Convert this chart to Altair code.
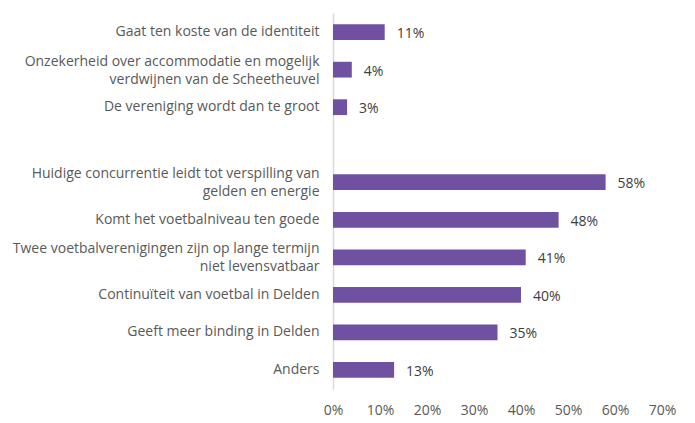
import altair as alt
import pandas as pd

categories = [
    "Gaat ten koste van de identiteit",
    "Onzekerheid over accommodatie en mogelijk|verdwijnen van de Scheetheuvel",
    "De vereniging wordt dan te groot",
    " ",
    "Huidige concurrentie leidt tot verspilling van|gelden en energie",
    "Komt het voetbalniveau ten goede",
    "Twee voetbalverenigingen zijn op lange termijn|niet levensvatbaar",
    "Continuïteit van voetbal in Delden",
    "Geeft meer binding in Delden",
    "Anders",
]
values = [0.11, 0.04, 0.03, None, 0.58, 0.48, 0.41, 0.40, 0.35, 0.13]
value_labels = ["11%", "4%", "3%", "", "58%", "48%", "41%", "40%", "35%", "13%"]

df = pd.DataFrame({"cat": categories, "val": values, "lbl": value_labels})
bars_df = df[df["val"].notna()]

FONT = "Open Sans"
FS = 14
PURPLE = "#7050a0"

y_enc = alt.Y(
    "cat:N",
    sort=categories,
    scale=alt.Scale(domain=categories, paddingInner=0.58, paddingOuter=0.3),
    axis=alt.Axis(
        title=None,
        ticks=False,
        domain=True,
        domainColor="#d9d9d9",
        domainWidth=1.5,
        labelPadding=14,
        labelLimit=400,
        labelFont=FONT,
        labelFontSize=FS,
        labelColor="#595959",
        labelExpr="split(datum.label, '|')",
        labelLineHeight=18,
        labelOffset={"expr": "indexof(datum.value, '|') >= 0 ? -8 : 0"},
    ),
)

x_enc = alt.X(
    "val:Q",
    scale=alt.Scale(domain=[0, 0.7]),
    axis=alt.Axis(
        title=None,
        format=".0%",
        values=[0, 0.1, 0.2, 0.3, 0.4, 0.5, 0.6, 0.7],
        grid=False,
        ticks=False,
        domain=False,
        labelFlush=False,
        labelPadding=14,
        labelFont=FONT,
        labelFontSize=FS,
        labelColor="#595959",
    ),
)

base = alt.Chart(bars_df)

bars = base.mark_bar(color=PURPLE).encode(y=y_enc, x=x_enc)

text = base.mark_text(
    align="left", baseline="middle", dx=12, dy=2, font=FONT, fontSize=FS, color="#404040"
).encode(y=alt.Y("cat:N", sort=categories), x="val:Q", text="lbl:N")

chart = (
    alt.layer(bars, text)
    .properties(
        width=329,
        height=376,
        autosize=alt.AutoSizeParams(type="none"),
        padding={"left": 325, "top": 5, "right": 25, "bottom": 30},
    )
    .configure_view(strokeWidth=0)
)

chart.save("out.html", embed_options={"renderer": "svg", "actions": False})
